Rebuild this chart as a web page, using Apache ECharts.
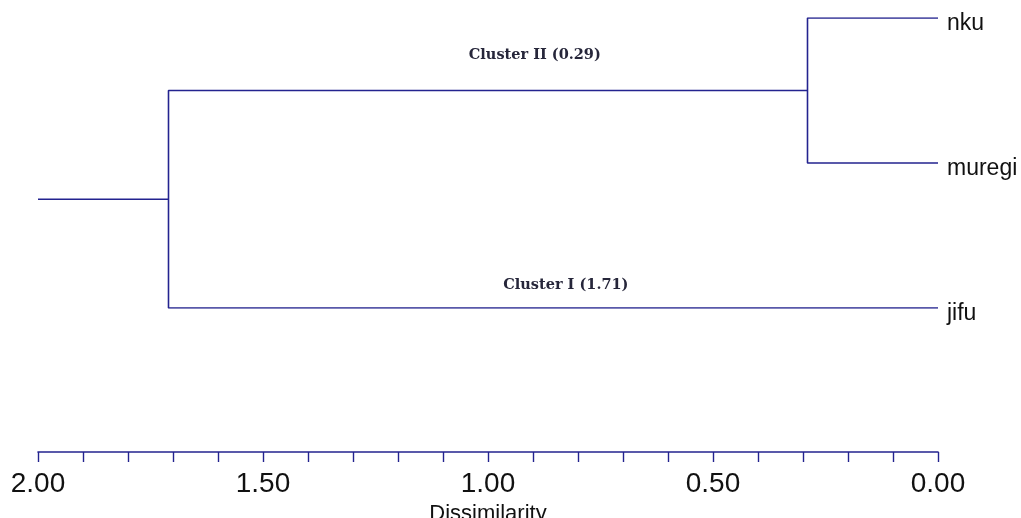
<!DOCTYPE html>
<html>
<head>
<meta charset="utf-8">
<script src="https://cdn.jsdelivr.net/npm/echarts@6/dist/echarts.min.js"></script>
<style>
  html, body { margin: 0; padding: 0; background: #ffffff; }
  #chart { width: 1021px; height: 518px; }
</style>
</head>
<body>
<div id="chart"></div>
<script>
// Leaves of the dendrogram, top to bottom, with their row index on the vertical scale
const leaves = ['nku', 'muregi', 'jifu'];
const leafRows = [2, 1, 0];

// Agglomeration steps: dissimilarity at which each cluster joins
const clusterNames = ['Cluster II', 'Cluster I'];
const clusterHeights = [0.29, 1.71];
const rootHeight = 2.00;

// Axis ticks
const tickStep = 0.1;
const labelledTicks = [0.00, 0.50, 1.00, 1.50, 2.00];

const lineColor = '#23238f';
const textColor = '#111111';

// Cluster II joins nku and muregi; Cluster I joins Cluster II with jifu
const c2y = (leafRows[0] + leafRows[1]) / 2;
const c1y = (c2y + leafRows[2]) / 2;

const branchPaths = [
  // Cluster II bracket
  [[0, leafRows[0]], [clusterHeights[0], leafRows[0]], [clusterHeights[0], leafRows[1]], [0, leafRows[1]]],
  // Cluster I bracket
  [[clusterHeights[0], c2y], [clusterHeights[1], c2y], [clusterHeights[1], leafRows[2]], [0, leafRows[2]]],
  // Root stem
  [[rootHeight, c1y], [clusterHeights[1], c1y]]
];

const series = branchPaths.map(p => ({
  type: 'line',
  data: p,
  showSymbol: false,
  symbol: 'none',
  silent: true,
  animation: false,
  lineStyle: { color: lineColor, width: 1.6 }
}));

// Leaf names at the tips
series.push({
  type: 'scatter',
  symbolSize: 0,
  animation: false,
  silent: true,
  itemStyle: { opacity: 1 },
  data: leaves.map((n, i) => ({ value: [0, leafRows[i]], name: n })),
  label: {
    show: true,
    position: 'right',
    distance: 9,
    offset: [0, 6],
    formatter: p => p.name,
    fontFamily: 'Liberation Sans, Arial, sans-serif',
    fontSize: 23,
    color: textColor
  }
});

// Cluster captions above their branches
const captionAnchors = [
  { x: 0.896, y: c2y, dy: -35 },
  { x: 0.827, y: leafRows[2], dy: -23 }
];
series.push({
  type: 'scatter',
  symbolSize: 0,
  animation: false,
  silent: true,
  itemStyle: { opacity: 1 },
  data: clusterNames.map((n, i) => ({
    value: [captionAnchors[i].x, captionAnchors[i].y],
    name: n + ' (' + clusterHeights[i].toFixed(2) + ')',
    label: { offset: [0, captionAnchors[i].dy] }
  })),
  label: {
    show: true,
    position: 'inside',
    formatter: p => p.name,
    fontFamily: 'DejaVu Serif, serif',
    fontWeight: 'bold',
    fontSize: 14.5,
    color: '#26263a'
  }
});

const chart = echarts.init(document.getElementById('chart'), null, { renderer: 'canvas' });
chart.setOption({
  backgroundColor: '#ffffff',
  animation: false,
  grid: { left: 38, right: 83, top: 18, bottom: 210, containLabel: false, outerBoundsMode: 'none' },
  xAxis: {
    type: 'value',
    inverse: true,
    min: 0,
    max: rootHeight,
    interval: tickStep,
    offset: 144,
    name: 'Dissimilarity',
    nameLocation: 'middle',
    nameGap: 46,
    nameTextStyle: {
      fontFamily: 'Liberation Sans, Arial, sans-serif',
      fontSize: 22,
      color: textColor
    },
    splitLine: { show: false },
    axisLine: { show: true, onZero: false, lineStyle: { color: lineColor, width: 1.6 } },
    axisTick: { show: true, length: 10, lineStyle: { color: lineColor, width: 1.4 } },
    axisLabel: {
      margin: 18,
      fontFamily: 'Liberation Sans, Arial, sans-serif',
      fontSize: 28,
      color: textColor,
      showMinLabel: true,
      showMaxLabel: true,
      formatter: v => labelledTicks.some(t => Math.abs(t - v) < 1e-6) ? v.toFixed(2) : ''
    }
  },
  yAxis: {
    type: 'value',
    min: 0,
    max: 2,
    show: false
  },
  series: series
});
</script>
</body>
</html>
